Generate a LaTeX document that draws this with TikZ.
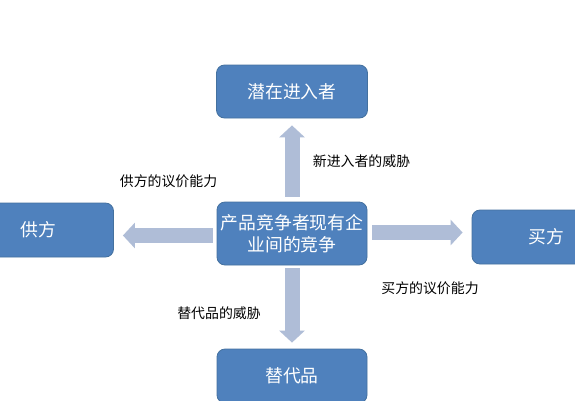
\documentclass[tikz,border=0pt]{standalone}
\usepackage{fontspec}
\setmainfont{Noto Sans CJK SC}
\usetikzlibrary{arrows.meta}
\definecolor{boxblue}{HTML}{4F81BD}
\definecolor{boxedge}{HTML}{44719F}
\definecolor{arrowblue}{HTML}{AFBDD7}
\tikzset{
  fbox/.style={draw=boxedge, line width=0.8pt, fill=boxblue, rounded corners=8pt,
    text=white, font=\fontsize{17.8}{22}\selectfont, align=center, inner sep=0pt},
  lab/.style={font=\fontsize{13.9}{16}\selectfont, text=black, inner sep=0pt},
  fat/.style={draw=arrowblue, line width=15pt, -{Triangle[width=25pt,length=12pt]}}
}
\begin{document}
\begin{tikzpicture}[x=1pt,y=-1pt]
\useasboundingbox (0,0) rectangle (575,400);
\fill[white] (0,0) rectangle (575,400);
\node[fbox, minimum width=151pt, minimum height=53pt] (top) at (292,91.5) {潜在进入者};
\node[fbox, minimum width=150pt, minimum height=63pt] (c) at (292,233.5) {产品竞争者现有企\\业间的竞争};
\node[fbox, minimum width=151pt, minimum height=54pt] (l) at (38,230) {供方};
\node[fbox, minimum width=148pt, minimum height=54pt] (r) at (546,237) {买方};
\node[fbox, minimum width=150pt, minimum height=54pt] (b) at (292,376) {替代品};
\draw[fat, shorten <=5pt, shorten >=7pt] (c.north) -- (top.south);
\draw[fat, shorten <=4pt, shorten >=9pt] ([yshift=-2pt]c.west) -- ([yshift=-2pt]c.west -| l.east);
\draw[fat, shorten <=5pt, shorten >=9pt] ([yshift=1pt]c.east) -- ([yshift=1pt]c.east -| r.west);
\draw[fat, shorten <=3pt, shorten >=6pt] (c.south) -- (b.north);
\node[lab] (l1) at (361.5,161) {新进入者的威胁};
\node[lab] (l2) at (168.5,181) {供方的议价能力};
\node[lab] (l3) at (430,288) {买方的议价能力};
\node[lab] (l4) at (219,313) {替代品的威胁};
\end{tikzpicture}
\end{document}
